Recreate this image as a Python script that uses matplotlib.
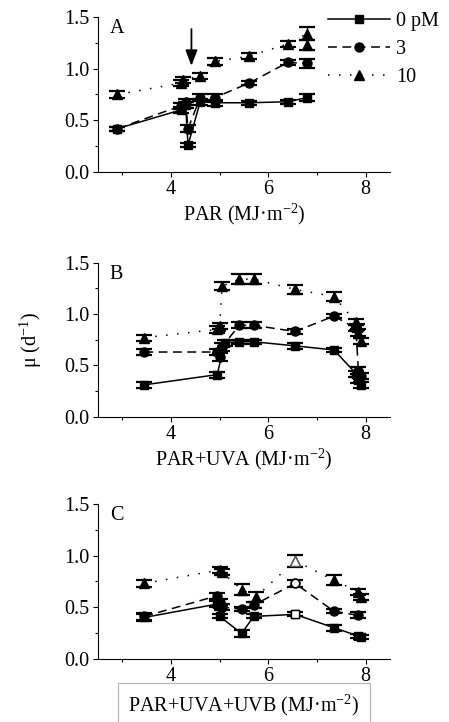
import matplotlib
matplotlib.use("Agg")
import matplotlib.pyplot as plt
from matplotlib.ticker import MultipleLocator, FormatStrFormatter

plt.rcParams['font.family'] = ['Liberation Serif', 'DejaVu Serif']
plt.rcParams['mathtext.fontset'] = 'custom'
plt.rcParams['mathtext.rm'] = 'Liberation Serif'
plt.rcParams['mathtext.it'] = 'Liberation Serif:italic'
plt.rcParams['font.size'] = 14.5

# ---- data ----
series_labels = ['0 pM', '3', '10']

# panel A: PAR
a_x0 = [2.9, 4.2, 4.3, 4.35, 4.6, 4.9, 5.6, 6.4, 6.8]
a_y0 = [0.42, 0.60, 0.65, 0.26, 0.68, 0.67, 0.67, 0.68, 0.72]
a_e0 = [0.02, 0.03, 0.03, 0.02, 0.03, 0.03, 0.02, 0.02, 0.03]
a_x3 = [2.9, 4.2, 4.3, 4.35, 4.6, 4.9, 5.6, 6.4, 6.8]
a_y3 = [0.42, 0.64, 0.68, 0.42, 0.72, 0.72, 0.86, 1.06, 1.05]
a_e3 = [0.02, 0.03, 0.03, 0.03, 0.03, 0.03, 0.02, 0.02, 0.04]
a_x10 = [2.9, 4.2, 4.25, 4.6, 4.9, 5.6, 6.4, 6.8, 6.8]
a_y10 = [0.75, 0.86, 0.89, 0.93, 1.07, 1.12, 1.24, 1.34, 1.23]
a_e10 = [0.03, 0.03, 0.03, 0.03, 0.03, 0.03, 0.03, 0.06, 0.05]

# panel B: PAR+UVA
b_x0 = [3.45, 4.95, 5.1, 5.4, 5.7, 6.55, 7.35, 7.8, 7.85, 7.9]
b_y0 = [0.31, 0.41, 0.72, 0.73, 0.73, 0.69, 0.65, 0.42, 0.36, 0.31]
b_e0 = [0.03, 0.03, 0.03, 0.02, 0.02, 0.03, 0.02, 0.03, 0.03, 0.03]
b_x3 = [3.45, 4.95, 5.0, 5.05, 5.4, 5.7, 6.55, 7.35, 7.8, 7.85, 7.9]
b_y3 = [0.63, 0.63, 0.58, 0.68, 0.89, 0.89, 0.83, 0.98, 0.86, 0.45, 0.40]
b_e3 = [0.03, 0.03, 0.04, 0.04, 0.03, 0.03, 0.02, 0.02, 0.03, 0.03, 0.03]
b_x10 = [3.45, 4.95, 5.0, 5.05, 5.4, 5.7, 6.55, 7.35, 7.8, 7.82, 7.85, 7.9]
b_y10 = [0.77, 0.85, 0.88, 1.27, 1.34, 1.34, 1.24, 1.17, 0.92, 0.87, 0.82, 0.74]
b_e10 = [0.03, 0.03, 0.03, 0.04, 0.05, 0.05, 0.04, 0.04, 0.03, 0.03, 0.03, 0.03]

# panel C: PAR+UVA+UVB
c_x0 = [3.45, 4.95, 5.0, 5.45, 5.7, 6.55, 7.35, 7.85, 7.9]
c_y0 = [0.40, 0.53, 0.41, 0.245, 0.41, 0.43, 0.30, 0.22, 0.21]
c_e0 = [0.03, 0.03, 0.02, 0.03, 0.02, 0.02, 0.03, 0.02, 0.02]
c_x3 = [3.45, 4.95, 5.0, 5.05, 5.45, 5.7, 6.55, 7.35, 7.85]
c_y3 = [0.41, 0.61, 0.55, 0.50, 0.48, 0.52, 0.73, 0.46, 0.42]
c_e3 = [0.03, 0.03, 0.03, 0.03, 0.02, 0.03, 0.03, 0.02, 0.03]
c_x10 = [3.45, 5.0, 5.05, 5.45, 5.75, 6.55, 7.35, 7.85, 7.9]
c_y10 = [0.73, 0.86, 0.84, 0.67, 0.60, 0.95, 0.76, 0.65, 0.60]
c_e10 = [0.03, 0.03, 0.03, 0.05, 0.05, 0.06, 0.05, 0.03, 0.03]
c_open = [5, 6, 5]   # index of the open (unfilled) point in each series

x_labels = ['PAR (MJ·m$^{-2}$)', 'PAR+UVA (MJ·m$^{-2}$)',
            'PAR+UVA+UVB (MJ·m$^{-2}$)']
panel_letters = ['A', 'B', 'C']

styles = [dict(marker='s', ms=6, ls='-'),
          dict(marker='o', ms=6.5, ls=(0, (5.8, 3.6))),
          dict(marker='^', ms=7.5, ls=(0, (1, 6.2)))]

panels = [
    [(a_x0, a_y0, a_e0), (a_x3, a_y3, a_e3), (a_x10, a_y10, a_e10)],
    [(b_x0, b_y0, b_e0), (b_x3, b_y3, b_e3), (b_x10, b_y10, b_e10)],
    [(c_x0, c_y0, c_e0), (c_x3, c_y3, c_e3), (c_x10, c_y10, c_e10)],
]

fig = plt.figure(figsize=(4.49, 7.22), dpi=100)
W, H = 449, 722
ax_rows = [(17, 172), (262.7, 416.7), (504, 658.7)]
axes = []
for top, bot in ax_rows:
    ax = fig.add_axes([98 / W, 1 - bot / H, 292 / W, (bot - top) / H])
    axes.append(ax)

handles = []
for k, ax in enumerate(axes):
    for j, (xs, ys, es) in enumerate(panels[k]):
        st = styles[j]
        eb = ax.errorbar(xs, ys, yerr=es, color='k', lw=1.1,
                         marker=st['marker'], ms=st['ms'], ls=st['ls'],
                         mfc='k', mec='k', elinewidth=1, capsize=6,
                         capthick=1.6)
        if k == 0:
            handles.append(eb[0])
        if k == 2:
            i = c_open[j]
            ax.plot(xs[i], ys[i], marker=st['marker'], ms=st['ms'] - 0.5,
                    mfc='white', mec='k' if j < 2 else '0.35', mew=1,
                    ls='none', zorder=5)

    ax.set_xlim(2.5, 8.5)
    ax.set_ylim(0, 1.5)
    ax.xaxis.set_major_locator(MultipleLocator(2))
    ax.xaxis.set_minor_locator(MultipleLocator(1))
    ax.yaxis.set_major_locator(MultipleLocator(0.5))
    ax.yaxis.set_minor_locator(MultipleLocator(0.25))
    ax.yaxis.set_major_formatter(FormatStrFormatter('%.1f'))
    ax.tick_params(which='major', direction='out', length=3.5, width=0.8,
                   pad=2.5)
    ax.tick_params(which='minor', direction='out', length=2, width=0.8)
    for s in ['top', 'right']:
        ax.spines[s].set_visible(False)
    ax.text(0.04, 0.985, panel_letters[k], transform=ax.transAxes,
            ha='left', va='top')
    if k < 2:
        ax.set_xlabel(x_labels[k], labelpad=2)
    else:
        ax.set_xlabel(x_labels[k], labelpad=5,
                      bbox=dict(boxstyle='square,pad=0.5', fc='white',
                                ec='0.7', lw=0.8))

axes[1].set_ylabel('μ (d$^{-1}$)', labelpad=15)

# arrow in panel A
axes[0].annotate('', xy=(4.42, 1.0), xytext=(4.42, 1.41),
                 arrowprops=dict(arrowstyle='-|>,head_length=0.63,head_width=0.24',
                                 mutation_scale=15, lw=1.3, color='k'))

axes[0].legend(handles, series_labels, loc='upper left',
               bbox_to_anchor=(328 / W, 1 - 12 / H),
               bbox_transform=fig.transFigure, frameon=False,
               borderpad=0, borderaxespad=0, handlelength=3.1,
               handletextpad=0.3, labelspacing=0.45, numpoints=1)

fig.savefig('out.png', dpi=100)
